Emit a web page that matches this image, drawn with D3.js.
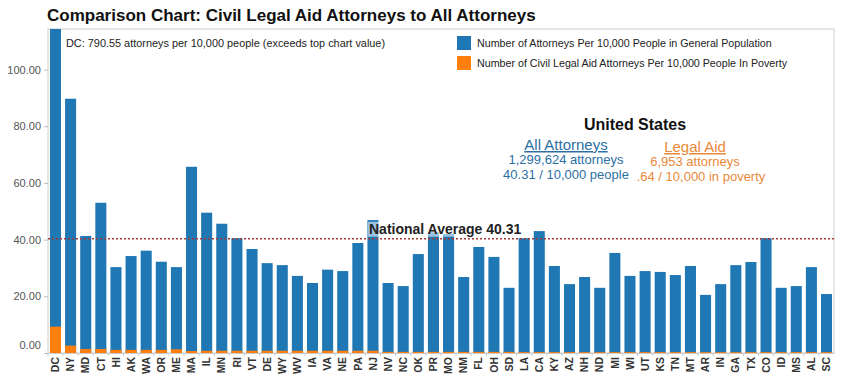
<!DOCTYPE html>
<html><head><meta charset="utf-8">
<script src="https://cdn.jsdelivr.net/npm/d3@7"></script>
<style>
body{margin:0;background:#fff;}
svg{display:block;font-family:"Liberation Sans",Arial,sans-serif;}
</style></head><body>
<svg id="c" width="847" height="381"></svg>
<script>
const states = ["DC","NY","MD","CT","HI","AK","WA","OR","ME","MA","IL","MN","RI","VT","DE","WY","WV","IA","VA","NE","PA","NJ","NV","NC","OK","PR","MO","NM","FL","OH","SD","LA","CA","KY","AZ","NH","ND","MI","WI","UT","KS","TN","MT","AR","IN","GA","TX","CO","ID","MS","AL","SC"];
const allAttorneys = [790.55,89.7,41.3,53.0,30.3,34.2,36.1,32.2,30.3,65.7,49.5,45.6,40.5,36.7,31.7,31.0,27.2,24.7,29.4,28.9,38.8,46.9,24.7,23.6,34.9,42.6,42.0,26.8,37.4,33.9,23.0,40.5,43.0,30.7,24.3,26.8,23.0,35.3,27.2,28.9,28.6,27.5,30.7,20.5,24.3,31.0,32.1,40.5,23.0,23.6,30.3,20.8];
const legalAid = [9.3,2.6,1.4,1.4,1.1,1.1,1.1,1.1,1.3,0.7,0.8,0.8,0.8,0.8,0.8,0.8,0.8,0.8,0.8,0.8,0.8,0.8,0.4,0.4,0.4,0.4,0.4,0.4,0.4,0.4,0.4,0.3,0.3,0.3,0.3,0.3,0.3,0.3,0.3,0.3,0.3,0.3,0.3,0.3,0.3,0.3,0.3,0.3,0.3,0.3,0.3,0.3];
const yTicks = [0,20,40,60,80,100];
const nationalAverage = 40.31;
const yMax = 114.3;
const seriesNames = ["Number of Attorneys Per 10,000 People in General Population","Number of Civil Legal Aid Attorneys Per 10,000 People In Poverty"];
const blue = "#1f77b4", orange = "#ff7f0e";

const svg = d3.select("#c");
const L = 48, R = 834, T = 29, B = 353;
const x = d3.scaleBand().domain(states).range([L, R]).paddingInner(0.27).paddingOuter(0.13);
const y = d3.scaleLinear().domain([0, yMax]).range([B, T]);

// title
svg.append("text").attr("x", 47).attr("y", 21).attr("font-size", 17).attr("font-weight", "bold").attr("fill", "#111")
  .text("Comparison Chart: Civil Legal Aid Attorneys to All Attorneys");

// frame
svg.append("rect").attr("x", L).attr("y", T).attr("width", R - L).attr("height", B - T)
  .attr("fill", "none").attr("stroke", "#d0d0d0").attr("stroke-width", 1);

svg.append("defs").append("clipPath").attr("id", "plot").append("rect")
  .attr("x", L).attr("y", T).attr("width", R - L).attr("height", B - T);

const g = svg.append("g").attr("clip-path", "url(#plot)");
g.selectAll("rect.all").data(states).join("rect").attr("class", "all")
  .attr("x", d => x(d)).attr("width", x.bandwidth())
  .attr("y", (d, i) => y(Math.min(allAttorneys[i], yMax + 2)))
  .attr("height", (d, i) => B - y(Math.min(allAttorneys[i], yMax + 2)))
  .attr("fill", blue);
g.selectAll("rect.aid").data(states).join("rect").attr("class", "aid")
  .attr("x", d => x(d)).attr("width", x.bandwidth())
  .attr("y", (d, i) => y(legalAid[i]))
  .attr("height", (d, i) => B - y(legalAid[i]))
  .attr("fill", orange);

// national average line
svg.append("line").attr("x1", L).attr("x2", R).attr("y1", y(nationalAverage)).attr("y2", y(nationalAverage))
  .attr("stroke", "#a33a3a").attr("stroke-width", 1.6).attr("stroke-dasharray", "2,2");
const navText = svg.append("text").attr("x", 369).attr("y", y(nationalAverage) - 5)
  .attr("font-size", 14).attr("font-weight", "bold").attr("fill", "#222").text("National Average " + nationalAverage.toFixed(2));
const bb = navText.node().getBBox();
svg.insert("rect", () => navText.node()).attr("x", bb.x - 1).attr("y", bb.y + 1).attr("width", bb.width + 2).attr("height", bb.height - 1)
  .attr("fill", "#fff").attr("fill-opacity", 0.55);

// y axis
const yAxis = svg.append("g").attr("transform", `translate(${L},0)`)
  .call(d3.axisLeft(y).tickValues(yTicks).tickFormat(d3.format(".2f")).tickSize(4).tickPadding(3));
yAxis.select(".domain").remove();
yAxis.selectAll(".tick line").attr("stroke", "#bbb");
yAxis.selectAll(".tick text").attr("font-size", 11).attr("fill", "#555").attr("font-family", "Liberation Sans, Arial, sans-serif");
yAxis.selectAll(".tick").filter(d => d === 0).select("text").attr("dy", "-0.4em");

// x axis
const xAxis = svg.append("g").attr("transform", `translate(0,${B})`)
  .call(d3.axisBottom(x).tickSize(0).tickPadding(4));
xAxis.select(".domain").attr("stroke", "#ccc");
xAxis.selectAll(".tick text").attr("font-size", 10.5).attr("font-weight", "bold").attr("fill", "#333")
  .attr("font-family", "Liberation Sans, Arial, sans-serif")
  .attr("transform", "rotate(-90)").attr("text-anchor", "end").attr("x", -4).attr("y", 0).attr("dy", "0.35em");
svg.append("g").selectAll("line").data(states).join("line")
  .attr("x1", d => x(d) - x.step() * x.paddingInner() / 2).attr("x2", d => x(d) - x.step() * x.paddingInner() / 2)
  .attr("y1", B).attr("y2", B + 3).attr("stroke", "#ccc");

// DC note
svg.append("text").attr("x", 66).attr("y", 47).attr("font-size", 10.9).attr("fill", "#222")
  .text("DC: 790.55 attorneys per 10,000 people (exceeds top chart value)");

// legend
const lg = svg.append("g");
[blue, orange].forEach((c, i) => {
  lg.append("rect").attr("x", 457).attr("y", 36 + i * 20).attr("width", 14).attr("height", 14).attr("fill", c);
  lg.append("text").attr("x", 477).attr("y", 47 + i * 20).attr("font-size", 10.7).attr("fill", "#222").text(seriesNames[i]);
});

// US summary
const usBlue = "#2d6fa3", usOrange = "#e8893a";
svg.append("text").attr("x", 635).attr("y", 130).attr("text-anchor", "middle").attr("font-size", 16).attr("font-weight", "bold").attr("fill", "#111").text("United States");
svg.append("text").attr("x", 566).attr("y", 150).attr("text-anchor", "middle").attr("font-size", 15).attr("fill", usBlue).attr("text-decoration", "underline").text("All Attorneys");
svg.append("text").attr("x", 566).attr("y", 164).attr("text-anchor", "middle").attr("font-size", 13).attr("fill", usBlue).text("1,299,624 attorneys");
svg.append("text").attr("x", 566).attr("y", 179).attr("text-anchor", "middle").attr("font-size", 13).attr("fill", usBlue).text("40.31 / 10,000 people");
svg.append("text").attr("x", 695).attr("y", 152).attr("text-anchor", "middle").attr("font-size", 15).attr("fill", usOrange).attr("text-decoration", "underline").text("Legal Aid");
svg.append("text").attr("x", 695).attr("y", 166).attr("text-anchor", "middle").attr("font-size", 13).attr("fill", usOrange).text("6,953 attorneys");
svg.append("text").attr("x", 701).attr("y", 181).attr("text-anchor", "middle").attr("font-size", 13).attr("fill", usOrange).text(".64 / 10,000 in poverty");
</script>
</body></html>
